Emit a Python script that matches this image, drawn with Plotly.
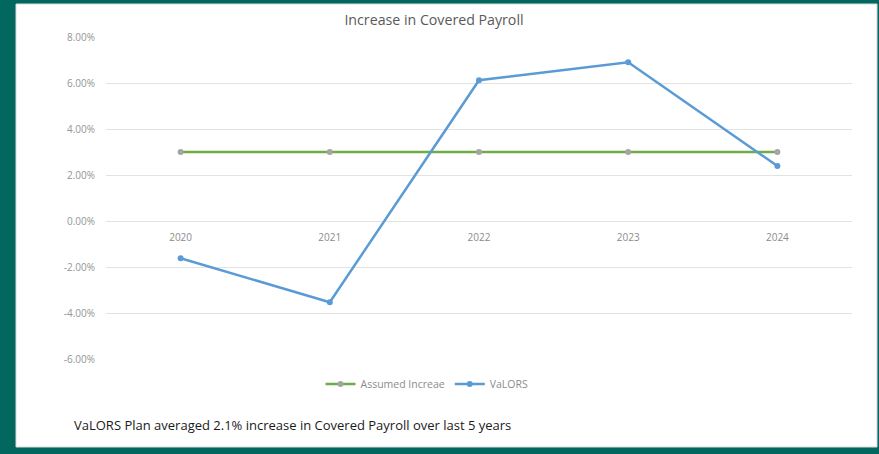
import plotly.graph_objects as go

years = ["2020", "2021", "2022", "2023", "2024"]
assumed = [3.0, 3.0, 3.0, 3.0, 3.0]
valors = [-1.62, -3.53, 6.12, 6.90, 2.39]
y_ticks = [-6, -4, -2, 0, 2, 4, 6, 8]
y_tick_labels = ["-6.00%", "-4.00%", "-2.00%", "0.00%", "2.00%", "4.00%", "6.00%", "8.00%"]

W, H = 879, 454
L, R, T, B = 106, 27, 37, 95
pw, ph = W - L - R, H - T - B

def px(x):
    return (x - L) / pw

def py(y):
    return (H - B - y) / ph

FONT = "Open Sans, sans-serif"

fig = go.Figure()
fig.add_trace(go.Scatter(
    x=years, y=assumed, name="Assumed Increae", mode="lines+markers",
    line=dict(color="#70AD47", width=2.5),
    marker=dict(color="#A5A5A5", size=6),
))
fig.add_trace(go.Scatter(
    x=years, y=valors, name="VaLORS", mode="lines+markers",
    line=dict(color="#5B9BD5", width=2.5),
    marker=dict(color="#5B9BD5", size=6),
))

fig.add_shape(type="rect", xref="paper", yref="paper",
              x0=px(16), x1=px(877), y0=py(447), y1=py(4),
              fillcolor="white", line=dict(color="#D9D9D9", width=1), layer="below")

fig.add_annotation(
    text="VaLORS Plan averaged 2.1% increase in Covered Payroll over last 5 years",
    xref="paper", yref="paper", x=px(72), y=py(425), xanchor="left", yanchor="middle",
    showarrow=False, font=dict(family=FONT, size=13, color="#1a1a1a"),
)

fig.update_layout(
    width=W, height=H,
    margin=dict(l=L, r=R, t=T, b=B),
    paper_bgcolor="#02675F",
    plot_bgcolor="white",
    title=dict(text="Increase in Covered Payroll", x=434 / W, xref="container", xanchor="center",
               y=1 - 20 / H, yref="container", yanchor="middle",
               font=dict(family=FONT, size=14.2, color="#595959")),
    showlegend=True,
    legend=dict(orientation="h", x=px(427), y=py(384), xanchor="center", yanchor="middle",
                font=dict(family=FONT, size=10.5, color="#8C8C8C"),
                bgcolor="rgba(0,0,0,0)", itemwidth=30),
    xaxis=dict(type="category", range=[-0.5, 4.5], anchor="free", position=6 / 14,
               showgrid=False, showline=False, zeroline=False, ticks="",
               ticklabelstandoff=9,
               tickfont=dict(family=FONT, size=10, color="#8C8C8C")),
    yaxis=dict(range=[-6, 8], tickvals=y_ticks, ticktext=y_tick_labels,
               showgrid=True, gridcolor="#E3E3E3", gridwidth=1, zeroline=False,
               showline=False, ticks="", ticklen=0, ticklabelstandoff=10,
               tickfont=dict(family=FONT, size=10, color="#959595")),
    font=dict(family=FONT),
)

fig.write_html("out.html")
